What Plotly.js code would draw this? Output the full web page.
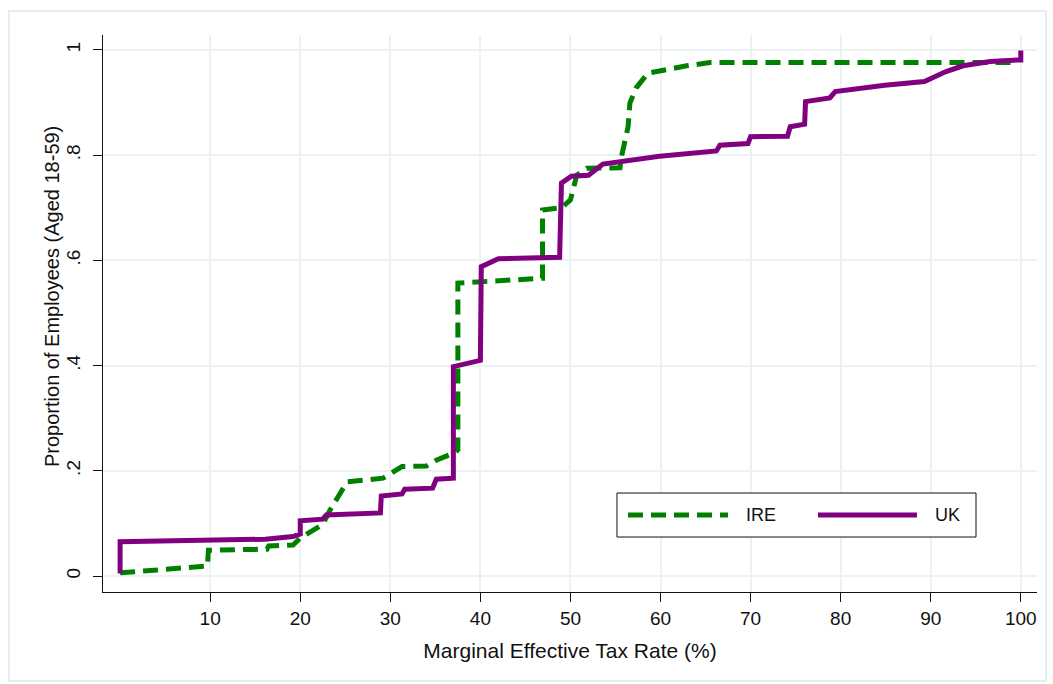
<!DOCTYPE html>
<html>
<head>
<meta charset="utf-8">
<script src="https://cdn.plot.ly/plotly-3.0.1.min.js"></script>
<style>html,body{margin:0;padding:0;background:#fff;}#chart{width:1053px;height:684px;}</style>
</head>
<body>
<div id="chart"></div>
<script>
// Marginal effective tax rate (%) vs cumulative proportion of employees
const ukX = [0, 0, 16.1, 19.2, 20, 20, 22.5, 22.9, 28.9, 29, 31.3, 31.6, 34.7, 35.1, 37, 37, 40, 40.1, 42, 48.8, 49, 50.1, 52, 53.6, 59.9, 66.2, 66.6, 69.7, 70, 74.1, 74.4, 76, 76.1, 78.8, 79.4, 84.9, 89.3, 91.7, 93.6, 96.6, 99.7, 100, 100];
const ukY = [0.005, 0.065, 0.070, 0.075, 0.080, 0.105, 0.108, 0.116, 0.120, 0.152, 0.156, 0.165, 0.167, 0.184, 0.186, 0.398, 0.410, 0.588, 0.603, 0.606, 0.747, 0.760, 0.762, 0.783, 0.798, 0.808, 0.819, 0.822, 0.835, 0.836, 0.854, 0.859, 0.902, 0.909, 0.921, 0.933, 0.940, 0.959, 0.970, 0.978, 0.981, 0.981, 0.999];

const ireX = [0, 8.9, 9.7, 9.8, 16.3, 16.5, 19.2, 20, 22.5, 23.3, 25.2, 29.2, 31.3, 34, 35.1, 37.2, 37.5, 37.5, 46.2, 46.9, 46.9, 47.9, 49, 50, 50.7, 51.8, 55.5, 55.7, 56.4, 56.6, 57.3, 58.6, 60.7, 62.9, 65.5, 99.7];
const ireY = [0.006, 0.018, 0.019, 0.049, 0.051, 0.057, 0.059, 0.072, 0.098, 0.125, 0.179, 0.186, 0.208, 0.209, 0.220, 0.235, 0.240, 0.557, 0.566, 0.566, 0.696, 0.697, 0.700, 0.715, 0.762, 0.775, 0.776, 0.800, 0.854, 0.899, 0.928, 0.956, 0.964, 0.970, 0.976, 0.976];

const xTicks = [10, 20, 30, 40, 50, 60, 70, 80, 90, 100];
const yTicks = [0, 0.2, 0.4, 0.6, 0.8, 1];
const yTickText = ['0', '.2', '.4', '.6', '.8', '1'];
const seriesNames = ['IRE', 'UK'];
const xTitle = 'Marginal Effective Tax Rate (%)';
const yTitle = 'Proportion of Employees (Aged 18-59)';

const GREEN = 'rgb(0,128,0)';
const PURPLE = 'rgb(128,0,128)';
const FONT = 'Liberation Sans, Arial, sans-serif';

const traces = [
  {x: ireX, y: ireY, type: 'scatter', mode: 'lines', name: seriesNames[0],
   line: {color: GREEN, width: 5, dash: '15px,8px'}, hoverinfo: 'skip'},
  {x: ukX, y: ukY, type: 'scatter', mode: 'lines', name: seriesNames[1],
   line: {color: PURPLE, width: 5}, hoverinfo: 'skip'}
];

// legend geometry in paper coords
const L = {x0: 0.5503, x1: 0.9347, y0: 0.0987, y1: 0.1777, ym: 0.1382};

const layout = {
  width: 1053, height: 684,
  margin: {l: 103, r: 16, t: 35, b: 92},
  paper_bgcolor: '#ffffff', plot_bgcolor: '#ffffff',
  showlegend: false,
  font: {family: FONT, color: '#111'},
  xaxis: {
    range: [-1.9, 101.8], tickvals: xTicks, ticks: 'outside', ticklen: 9, tickcolor: '#111',
    showline: true, linecolor: '#111', linewidth: 1, zeroline: false,
    showgrid: true, gridcolor: '#eaf2f3', gridwidth: 2,
    tickfont: {size: 19, family: FONT, color: '#111'},
    title: {text: xTitle, font: {size: 21, family: FONT, color: '#111'}, standoff: 15}
  },
  yaxis: {
    range: [-0.0304, 1.0285], tickvals: yTicks, ticktext: yTickText, tickangle: -90,
    ticks: 'outside', ticklen: 9, tickcolor: '#111', ticklabelstandoff: 5,
    showline: true, linecolor: '#111', linewidth: 1, zeroline: false,
    showgrid: true, gridcolor: '#eaf2f3', gridwidth: 2,
    tickfont: {size: 19, family: FONT, color: '#111'}
  },
  shapes: [
    {type: 'rect', xref: 'paper', yref: 'paper', x0: -0.1006, x1: 1.0096, y0: -0.160, y1: 1.043,
     line: {color: '#e6eef0', width: 2}, fillcolor: 'rgba(0,0,0,0)', layer: 'below'},
    {type: 'rect', xref: 'paper', yref: 'paper', x0: L.x0, x1: L.x1, y0: L.y0, y1: L.y1,
     line: {color: '#111', width: 1}, fillcolor: '#ffffff'},
    {type: 'line', xref: 'paper', yref: 'paper', x0: 0.5621, x1: 0.6692, y0: L.ym, y1: L.ym,
     line: {color: GREEN, width: 5, dash: '15px,8px'}},
    {type: 'line', xref: 'paper', yref: 'paper', x0: 0.7655, x1: 0.8715, y0: L.ym, y1: L.ym,
     line: {color: PURPLE, width: 5}}
  ],
  annotations: [
    {xref: 'paper', yref: 'paper', x: -0.0546, y: 0.5296, xanchor: 'center', yanchor: 'middle', showarrow: false,
     textangle: -90, text: yTitle, font: {size: 20, family: FONT, color: '#111'}},
    {xref: 'paper', yref: 'paper', x: 0.6863, y: L.ym, xanchor: 'left', yanchor: 'middle', showarrow: false,
     text: seriesNames[0], font: {size: 18, family: FONT, color: '#111'}},
    {xref: 'paper', yref: 'paper', x: 0.8887, y: L.ym, xanchor: 'left', yanchor: 'middle', showarrow: false,
     text: seriesNames[1], font: {size: 18, family: FONT, color: '#111'}}
  ]
};

Plotly.newPlot('chart', traces, layout, {staticPlot: true, displayModeBar: false});
</script>
</body>
</html>
